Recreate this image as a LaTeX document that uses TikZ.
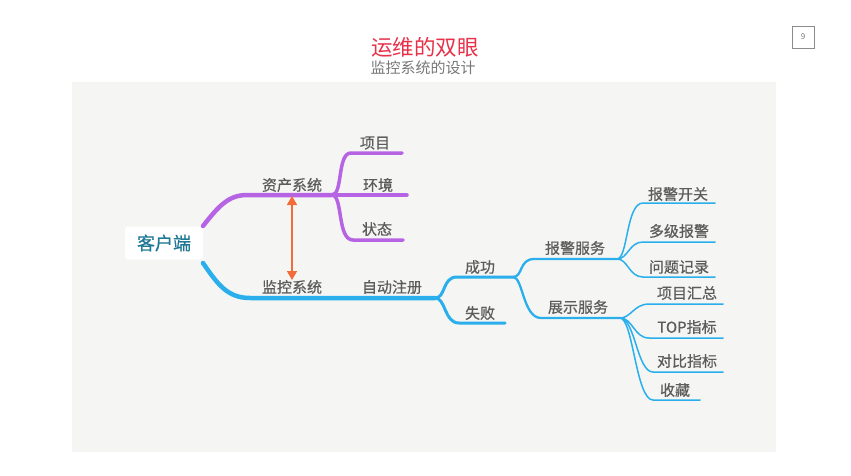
\documentclass[tikz,border=0pt]{standalone}
\usepackage{fontspec}
\newfontfamily\cjk{Noto Sans CJK SC}
\newfontfamily\cjkm[FakeBold=0.6]{Noto Sans CJK SC}
\usetikzlibrary{arrows.meta}
\definecolor{mmpurple}{RGB}{183,100,228}
\definecolor{mmblue}{RGB}{42,174,236}
\definecolor{mmorange}{RGB}{242,108,58}
\definecolor{mmtext}{RGB}{92,92,92}
\definecolor{panel}{RGB}{245,246,244}
\definecolor{titlered}{RGB}{232,48,72}
\definecolor{subgray}{RGB}{120,120,120}
\definecolor{rootteal}{RGB}{30,120,150}
\begin{document}
\begin{tikzpicture}[x=1pt,y=-1pt,
  lbl/.style={font=\cjkm\fontsize{15}{18}\selectfont, text=mmtext, inner sep=0pt},
  pmain/.style={draw=mmpurple, line width=4.5pt, line cap=round},
  psub/.style={draw=mmpurple, line width=3.5pt, line cap=round},
  bmain/.style={draw=mmblue, line width=4.5pt, line cap=round},
  bsub/.style={draw=mmblue, line width=3pt, line cap=round},
  bsub2/.style={draw=mmblue, line width=2.3pt, line cap=round},
  bleaf/.style={draw=mmblue, line width=1.5pt, line cap=round},
  rootbox/.style={fill=white, rounded corners=3pt, minimum width=78pt, minimum height=33pt, font=\cjkm\fontsize{18}{20}\selectfont, text=rootteal},
  pagebox/.style={draw=black!45, line width=0.6pt, minimum width=22pt, minimum height=22pt, inner sep=0pt, font=\cjk\fontsize{8}{9}\selectfont, text=subgray}
]
\useasboundingbox (0,0) rectangle (851,476);
\fill[white] (0,0) rectangle (851,476);
\fill[panel] (72,82) rectangle (776,452);

% titles
\node[font=\cjk\fontsize{21.5}{24}\selectfont, text=titlered, inner sep=0pt] (title) at (425,47) {运维的双眼};
\node[font=\cjk\fontsize{15}{17}\selectfont, text=subgray, inner sep=0pt] (subtitle) at (423,68) {监控系统的设计};
\node[pagebox] (page) at (803,37) {9};

% root
\node[rootbox] (root) at (164,243) {客户端};

% coordinates
\coordinate (c1) at (203,226);
\coordinate (pA) at (247,195);
\coordinate (pB) at (332,195);
\coordinate (xm) at (402,153);
\coordinate (hj) at (407,195);
\coordinate (zt) at (403,240);
\coordinate (c2) at (203,263);
\coordinate (bA) at (250,298);
\coordinate (jk) at (435,298);
\coordinate (cg) at (513,277);
\coordinate (sb) at (505,323);
\coordinate (bj) at (617,259);
\coordinate (zs) at (620,318);
\coordinate (l1) at (715,203);
\coordinate (l2) at (715,242);
\coordinate (l3) at (715,277);
\coordinate (l4) at (723,304);
\coordinate (l5) at (723,338);
\coordinate (l6) at (723,372);
\coordinate (l7) at (700,400);

% purple branch
\draw[pmain] (c1) .. controls (218,207) and (228,195) .. (pA) -- (pB);
\draw[psub] (pB) .. controls (343,195) and (337,153) .. (351,153) -- (xm);
\draw[psub] (pB) -- (hj);
\draw[psub] (pB) .. controls (343,195) and (337,240) .. (353,240) -- (zt);

% blue branch
\draw[bmain] (c2) .. controls (218,285) and (228,298) .. (bA) -- (jk);
\draw[bsub] (jk) .. controls (446,298) and (442,277) .. (457,277) -- (cg);
\draw[bsub] (jk) .. controls (446,298) and (444,323) .. (459,323) -- (sb);
\draw[bsub2] (cg) .. controls (523,277) and (519,259) .. (534,259) -- (bj);
\draw[bsub2] (cg) .. controls (523,277) and (523,318) .. (541,318) -- (zs);
\draw[bleaf] (bj) .. controls (628,259) and (626,203) .. (643,203) -- (l1);
\draw[bleaf] (bj) .. controls (628,259) and (629,242) .. (643,242) -- (l2);
\draw[bleaf] (bj) .. controls (628,259) and (629,277) .. (643,277) -- (l3);
\draw[bleaf] (zs) .. controls (631,318) and (634,304) .. (649,304) -- (l4);
\draw[bleaf] (zs) .. controls (633,318) and (634,338) .. (649,338) -- (l5);
\draw[bleaf] (zs) .. controls (635,318) and (637,372) .. (653,372) -- (l6);
\draw[bleaf] (zs) .. controls (633,318) and (636,400) .. (653,400) -- (l7);

% orange link
\coordinate (oa) at (292,196);
\coordinate (ob) at (292,280);
\draw[mmorange, line width=1.6pt, {Triangle[length=9pt,width=10pt]}-{Triangle[length=9pt,width=10pt]}] (oa) -- (ob);

% labels
\node[lbl] (zc) at (292,185) {资产系统};
\node[lbl] (t1) at (375,143) {项目};
\node[lbl] (t2) at (378,185) {环境};
\node[lbl] (t3) at (377,229) {状态};
\node[lbl] (jkl) at (292,287) {监控系统};
\node[lbl] (zd) at (392,287) {自动注册};
\node[lbl] (cgl) at (480,267) {成功};
\node[lbl] (sbl) at (480,313) {失败};
\node[lbl] (bjl) at (575,248) {报警服务};
\node[lbl] (zsl) at (578,307) {展示服务};
\node[lbl] (a1) at (678,194) {报警开关};
\node[lbl] (a2) at (679,231) {多级报警};
\node[lbl] (a3) at (679,267) {问题记录};
\node[lbl] (b1) at (687,293) {项目汇总};
\node[lbl] (b2) at (687,327) {TOP指标};
\node[lbl] (b3) at (687,361) {对比指标};
\node[lbl] (b4) at (675,390) {收藏};
\end{tikzpicture}
\end{document}
